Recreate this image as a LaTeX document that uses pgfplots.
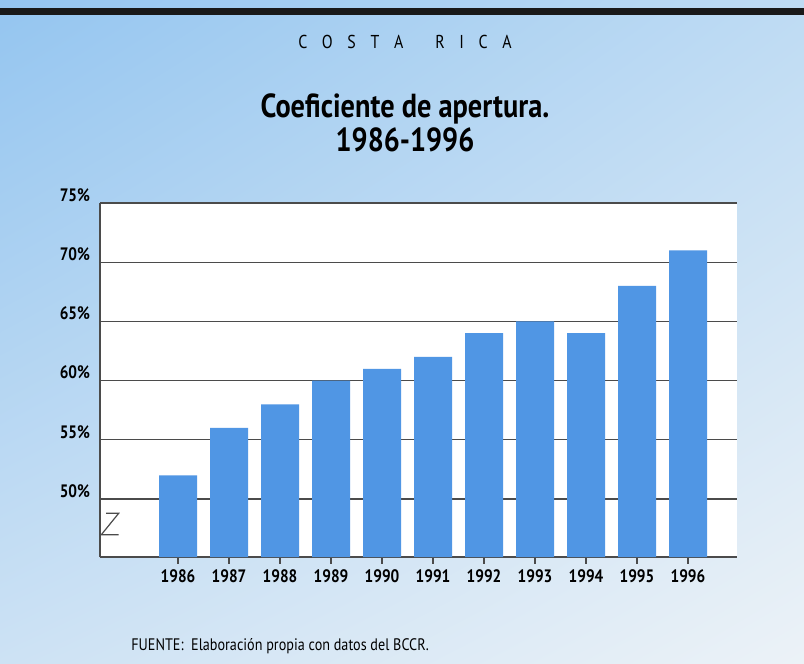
\documentclass[border=0pt]{standalone}
\usepackage{pgfplots}
\pgfplotsset{compat=1.18}
\usetikzlibrary{shadings}
\usepackage{fontspec}
\setmainfont{PT Sans}[FakeStretch=0.85]
\definecolor{barblue}{RGB}{80,150,228}
\definecolor{gridgray}{RGB}{75,75,75}
\definecolor{bgul}{RGB}{148,197,240}
\definecolor{bgur}{RGB}{190,219,243}
\definecolor{bgll}{RGB}{205,226,244}
\definecolor{bglr}{RGB}{236,242,247}
\begin{document}
\begin{tikzpicture}
% background of the page, px*0.75 = pt
\shade[upper left=bgul, upper right=bgur, lower left=bgll, lower right=bglr]
  (0pt,0pt) rectangle (603pt,-498pt);
\fill[black!90] (0pt,-6pt) rectangle (603pt,-11.25pt);

\node[font=\fontsize{14}{16}\selectfont] at (303.75pt,-31.5pt)
  {C\kern11pt O\kern11pt S\kern11pt T\kern11pt A\kern24pt R\kern11pt I\kern11pt C\kern11pt A};
\node[font=\bfseries\fontsize{25}{25}\selectfont, align=center] at (303.75pt,-92pt)
  {Coeficiente de apertura.\\1986-1996};

\begin{axis}[
  at={(75pt,-417.75pt)}, anchor=south west,
  scale only axis,
  width=477.75pt, height=265.5pt,
  xmin=1984.47, xmax=1996.96,
  ymin=45.1, ymax=75,
  axis x line=bottom, axis y line=left,
  axis line style={-, gridgray, line width=1pt},
  every outer x axis line/.append style={-},
  every outer y axis line/.append style={-},
  axis background/.style={fill=white},
  ybar, bar width=28.5pt, bar shift=0pt,
  xtick={1986,...,1996},
  xticklabels={1986,1987,1988,1989,1990,1991,1992,1993,1994,1995,1996},
  ytick={50,55,60,65,70,75},
  yticklabels={50\%,55\%,60\%,65\%,70\%,75\%},
  ymajorgrids,
  grid style={gridgray, line width=1pt},
  tick align=outside,
  x tick style={gridgray, line width=0.8pt},
  xtick pos=bottom,
  major tick length=5pt,
  y tick style={draw=none},
  ticklabel style={font=\bfseries\fontsize{13.5}{15}\selectfont},
  yticklabel style={yshift=6pt, xshift=1pt},
  xticklabel style={yshift=-1pt},
  /pgf/number format/assume math mode=true,
]
\addplot[fill=barblue, draw=none] coordinates {
  (1986,52) (1987,56) (1988,58) (1989,60) (1990,61) (1991,62)
  (1992,64) (1993,65) (1994,64) (1995,68) (1996,71)};
\end{axis}

% axis break mark
\draw[gridgray, line width=0.9pt] (79.5pt,-385pt) -- (89pt,-385pt)
  -- (76pt,-401pt) -- (89pt,-401pt);

\node[anchor=west, font=\fontsize{12.5}{14}\selectfont] at (95pt,-484.5pt)
  {FUENTE:\ \ Elaboración propia con datos del BCCR.};
\end{tikzpicture}
\end{document}
